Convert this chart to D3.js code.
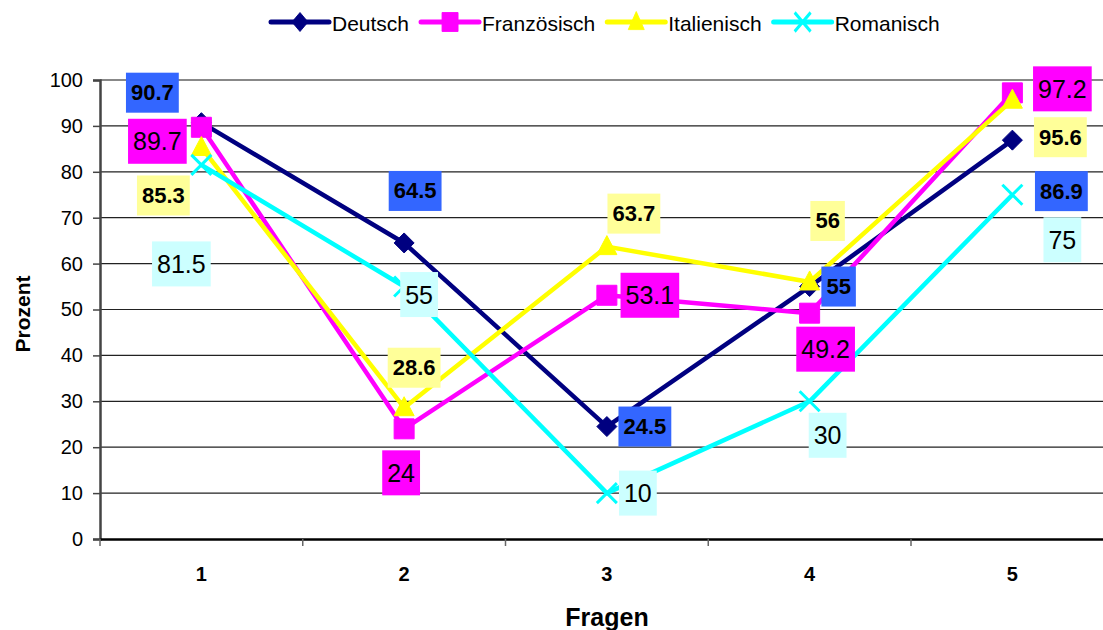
<!DOCTYPE html>
<html>
<head>
<meta charset="utf-8">
<script src="https://cdn.jsdelivr.net/npm/d3@7"></script>
<style>
  body { margin: 0; background: #fff; }
  svg { display: block; font-family: Arial, "Liberation Sans", sans-serif; }
</style>
</head>
<body>
<script>
var width = 1103;
var height = 630;
var padding = { left: 100, top: 80, bottom: 91 };

// data
var categories = ['1', '2', '3', '4', '5'];
var seriesNames = ['Deutsch', 'Französisch', 'Italienisch', 'Romanisch'];
var deutsch = [90.7, 64.5, 24.5, 55, 86.9];
var franzoesisch = [89.7, 24, 53.1, 49.2, 97.2];
var italienisch = [85.3, 28.6, 63.7, 56, 95.6];
var romanisch = [81.5, 55, 10, 30, 75];
var yTicks = [0, 10, 20, 30, 40, 50, 60, 70, 80, 90, 100];

// label placement (pixel offsets from each point), hand-placed like in the original
var labelOffsets = [
  [[-49, -30], [11, -52], [38, 0], [29, 0], [49, 51]],
  [[-44, 14], [-3, 44], [43, 0], [16, 36], [50, -4]],
  [[-38, 48], [10, -40], [27, -33], [18, -61], [48, 37]],
  [[-20, 99], [15, 8], [31, 0], [18, 34], [50, 45]]
];

var styles = [
  { color: '#000080', marker: 'diamond', labelBg: '#3366FF', bold: true },
  { color: '#FF00FF', marker: 'square', labelBg: '#FF00FF', bold: false },
  { color: '#FFFF00', marker: 'triangle', labelBg: '#FFFF99', bold: true },
  { color: '#00FFFF', marker: 'cross', labelBg: '#CCFFFF', bold: false }
];

var series = [deutsch, franzoesisch, italienisch, romanisch].map(function (values, i) {
  return { name: seriesNames[i], values: values, style: styles[i], offsets: labelOffsets[i] };
});

var markerPaths = {
  diamond: 'M0,-10L10,0L0,10L-10,0Z',
  square: 'M-10,-10H10V10H-10Z',
  triangle: 'M0,-11L10,8L-10,8Z',
  cross: 'M-10,-10L10,10M10,-10L-10,10'
};

var svg = d3.select('body')
            .append('svg')
            .attr('width', width)
            .attr('height', height);

var bandWidth = 202.75;
var xScale = d3.scaleBand()
                .domain(categories)
                .range([padding.left, padding.left + bandWidth * categories.length])
                .padding(0);

var yScale = d3.scaleLinear()
                .domain([0, 100])
                .range([height - padding.bottom, padding.top]);

function xCenter(c) { return xScale(c) + xScale.bandwidth() / 2; }

// gridlines
svg.append('g')
    .selectAll('line')
    .data(yTicks.filter(function (d) { return d > 0 && d < 100; }))
    .enter()
    .append('line')
    .attr('x1', padding.left)
    .attr('x2', width)
    .attr('y1', function (d) { return yScale(d); })
    .attr('y2', function (d) { return yScale(d); })
    .attr('stroke', '#222')
    .attr('stroke-width', 1.2);

// plot area top border
svg.append('line')
    .attr('x1', padding.left)
    .attr('x2', width)
    .attr('y1', yScale(100))
    .attr('y2', yScale(100))
    .attr('stroke', '#888')
    .attr('stroke-width', 2);

// y axis
var yAxis = svg.append('g')
    .attr('transform', 'translate(' + padding.left + ',0)')
    .call(d3.axisLeft(yScale).tickValues(yTicks).tickSize(7).tickPadding(10));
yAxis.select('.domain').attr('stroke', '#444').attr('stroke-width', 2.5);
yAxis.selectAll('.tick line').attr('stroke', '#444').attr('stroke-width', 1.5);
yAxis.selectAll('.tick text')
    .attr('fill', '#000')
    .style('font-size', '20px')
    .style('font-family', 'Arial, "Liberation Sans", sans-serif');

// x axis
var xAxis = svg.append('g')
    .attr('transform', 'translate(0,' + yScale(0) + ')')
    .call(d3.axisBottom(xScale).tickSize(0).tickPadding(28));
xAxis.select('.domain').attr('stroke', '#000').attr('stroke-width', 2.5);
xAxis.selectAll('.tick text')
    .attr('fill', '#000')
    .style('font-size', '20px')
    .style('font-weight', 'bold')
    .style('font-family', 'Arial, "Liberation Sans", sans-serif');

// x tick marks at band edges
svg.append('g')
    .selectAll('line')
    .data(categories)
    .enter()
    .append('line')
    .attr('x1', function (d) { return xScale(d); })
    .attr('x2', function (d) { return xScale(d); })
    .attr('y1', yScale(0))
    .attr('y2', yScale(0) + 7)
    .attr('stroke', '#666')
    .attr('stroke-width', 1.5);

// axis titles
svg.append('text')
    .attr('x', 607)
    .attr('y', 617)
    .attr('text-anchor', 'middle')
    .attr('dominant-baseline', 'central')
    .style('font-size', '25px')
    .style('font-weight', 'bold')
    .text('Fragen');

svg.append('text')
    .attr('transform', 'translate(22,' + 314 + ') rotate(-90)')
    .attr('text-anchor', 'middle')
    .attr('dominant-baseline', 'central')
    .style('font-size', '21px')
    .style('font-weight', 'bold')
    .text('Prozent');

// lines and markers
var line = d3.line()
    .x(function (d, i) { return xCenter(categories[i]); })
    .y(function (d) { return yScale(d); });

var seriesG = svg.selectAll('.series')
    .data(series)
    .enter()
    .append('g')
    .attr('class', 'series');

seriesG.append('path')
    .attr('d', function (d) { return line(d.values); })
    .attr('fill', 'none')
    .attr('stroke', function (d) { return d.style.color; })
    .attr('stroke-width', 4.5)
    .attr('stroke-linejoin', 'round');

seriesG.each(function (s) {
  d3.select(this).selectAll('.marker')
    .data(s.values)
    .enter()
    .append('path')
    .attr('class', 'marker')
    .attr('transform', function (d, i) { return 'translate(' + xCenter(categories[i]) + ',' + yScale(d) + ')'; })
    .attr('d', markerPaths[s.style.marker])
    .attr('fill', s.style.marker === 'cross' ? 'none' : s.style.color)
    .attr('stroke', s.style.color)
    .attr('stroke-width', s.style.marker === 'cross' ? 3 : 1);
});

// data labels
series.forEach(function (s) {
  s.values.forEach(function (v, i) {
    var cx = xCenter(categories[i]) + s.offsets[i][0];
    var cy = yScale(v) + s.offsets[i][1];
    var g = svg.append('g').attr('transform', 'translate(' + cx + ',' + cy + ')');
    var rect = g.append('rect').attr('fill', s.style.labelBg);
    var txt = g.append('text')
        .attr('text-anchor', 'middle')
        .attr('dominant-baseline', 'central')
        .attr('fill', '#000')
        .style('font-size', s.style.bold ? '22px' : '25px')
        .style('font-weight', s.style.bold ? 'bold' : 'normal')
        .text(v);
    var w = txt.node().getComputedTextLength() + 10;
    var h = s.style.bold ? 40 : 45;
    rect.attr('x', -w / 2).attr('y', -h / 2).attr('width', w).attr('height', h);
  });
});

// legend
var legend = svg.append('g').attr('transform', 'translate(271,22)');
var lx = 0;
series.forEach(function (s) {
  var item = legend.append('g').attr('transform', 'translate(' + lx + ',0)');
  item.append('line')
      .attr('x1', 0).attr('x2', 58)
      .attr('y1', 0).attr('y2', 0)
      .attr('stroke', s.style.color)
      .attr('stroke-width', 5)
      .attr('stroke-linecap', 'round');
  item.append('path')
      .attr('transform', 'translate(29,0) scale(0.8,0.95)')
      .attr('d', markerPaths[s.style.marker])
      .attr('fill', s.style.marker === 'cross' ? 'none' : s.style.color)
      .attr('stroke', s.style.color)
      .attr('stroke-width', s.style.marker === 'cross' ? 3.5 : 1);
  var t = item.append('text')
      .attr('x', 61)
      .attr('y', 1)
      .attr('dominant-baseline', 'central')
      .style('font-size', '21px')
      .text(s.name);
  lx += 61 + t.node().getComputedTextLength() + 12;
});
</script>
</body>
</html>
